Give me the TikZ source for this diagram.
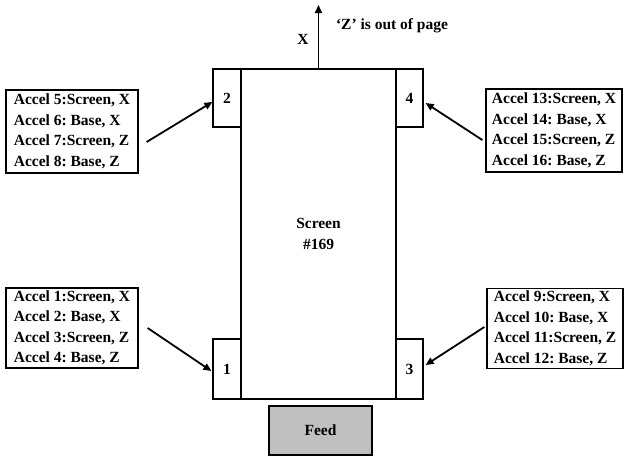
\documentclass[tikz,border=0pt]{standalone}
\usepackage{fontspec}
\setmainfont{Liberation Serif}
\usetikzlibrary{arrows.meta,calc}
\frenchspacing
\begin{document}
\begin{tikzpicture}[x=1pt,y=-1pt,
  base/.style={font=\fontsize{15.5}{20.5}\selectfont\bfseries},
  box/.style={base,draw,line width=1.3pt,fill=white,inner sep=0pt,anchor=center},
  info/.style={base,draw,line width=1.3pt,align=left,inner sep=0pt,anchor=center},
  arr/.style={line width=1.8pt,-{Triangle[length=8pt,width=7pt]}}]
\useasboundingbox (0,0) rectangle (626,456);
\node[box,minimum width=155pt,minimum height=330pt,align=center] (scr) at (318.5,234) {Screen\\\#169};
\node[box,minimum width=28pt,minimum height=58pt] (b2) at (227,98) {2};
\node[box,minimum width=27pt,minimum height=58pt] (b4) at (409.5,98) {4};
\node[box,minimum width=28pt,minimum height=60pt] (b1) at (227,369) {1};
\node[box,minimum width=27pt,minimum height=60pt] (b3) at (409.5,369) {3};
\node[box,fill={rgb,255:red,192;green,192;blue,192},minimum width=103pt,minimum height=49pt] (feed) at (320.5,430.5) {Feed};
\node[info,minimum width=132pt,minimum height=83pt] (L1) at (72,131.5) {Accel 5:Screen, X\\Accel 6: Base, X\\Accel 7:Screen, Z\\Accel 8: Base, Z};
\node[info,minimum width=132pt,minimum height=80pt] (L2) at (72,328) {Accel 1:Screen, X\\Accel 2: Base, X\\Accel 3:Screen, Z\\Accel 4: Base, Z};
\node[info,minimum width=136pt,minimum height=83pt] (R1) at (554,130.5) {Accel 13:Screen, X\\Accel 14: Base, X\\Accel 15:Screen, Z\\Accel 16: Base, Z};
\node[info,minimum width=136pt,minimum height=80pt] (R2) at (555,328.5) {Accel 9:Screen, X\\Accel 10: Base, X\\Accel 11:Screen, Z\\Accel 12: Base, Z};
\draw[arr] ($(L1.east)+(8,10.5)$) -- ($(b2.west)+(0,4)$);
\draw[arr] ($(R1.west)+(-3,9.5)$) -- ($(b4.east)+(2,5)$);
\draw[arr] ($(L2.east)+(9,0)$) -- ($(b1.west)+(-1,2)$);
\draw[arr] ($(R2.west)+(-2,-1.5)$) -- ($(b3.east)+(2,-4)$);
\coordinate (top) at (318.5,5);
\draw[arr] (scr.north) -- (top);
\node[base] (xl) at (303,39) {X};
\node[base] (zl) at (392,26) {‘Z’ is out of page};
\end{tikzpicture}
\end{document}
